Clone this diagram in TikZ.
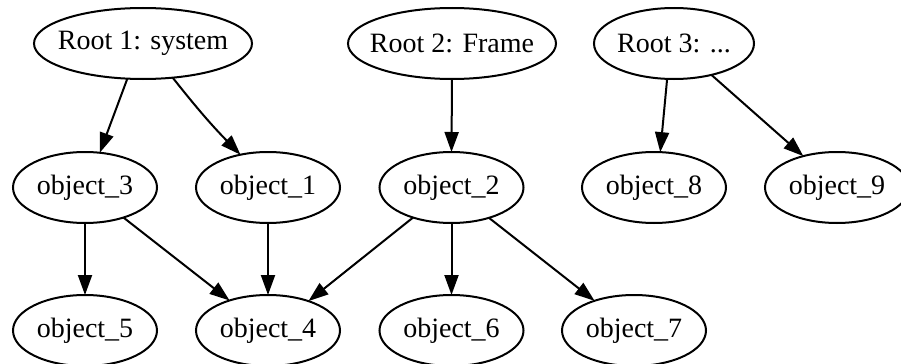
\documentclass[tikz,border=0pt]{standalone}
\usepackage{fontspec}
\setmainfont{Liberation Serif}
\usetikzlibrary{arrows.meta,shapes.geometric}
\newcommand{\lbl}[1]{\makebox[0pt]{#1}}
\tikzset{
  gnode/.style={ellipse,draw,line width=1pt,inner sep=0pt,outer sep=0pt,
    minimum height=35.5pt,font=\fontsize{14}{16}\selectfont},
  objnode/.style={gnode,minimum width=72pt},
  edge/.style={line width=1pt,-{Triangle[length=10pt,width=7pt]}}
}
\begin{document}
\begin{tikzpicture}[x=0.5pt,y=-0.5pt]
\useasboundingbox (0,0) rectangle (901,364);
\node[gnode,minimum width=109pt] (r1) at (143,43.5) {\lbl{Root 1: system}};
\node[gnode,minimum width=104pt] (r2) at (452,43.5) {\lbl{Root 2: Frame}};
\node[gnode,minimum width=80pt] (r3) at (674,43.5) {\lbl{Root 3: ...}};
\node[objnode] (o3) at (85,187.5) {\lbl{object\_3}};
\node[objnode] (o1) at (268,187.5) {\lbl{object\_1}};
\node[objnode] (o2) at (451.5,187.5) {\lbl{object\_2}};
\node[objnode] (o8) at (654,187.5) {\lbl{object\_8}};
\node[objnode] (o9) at (837,187.5) {\lbl{object\_9}};
\node[objnode] (o5) at (85,330.5) {\lbl{object\_5}};
\node[objnode] (o4) at (268,330.5) {\lbl{object\_4}};
\node[objnode] (o6) at (451.5,330.5) {\lbl{object\_6}};
\node[objnode] (o7) at (634,330.5) {\lbl{object\_7}};
\draw[edge] (r1.246.9) -- (o3.67.3);
\draw[edge] (r1.311.7) to[bend right=3] (o1.130.5);
\draw[edge] (r2.south) -- (o2.north);
\draw[edge] (r3.259.6) -- (o8.80.5);
\draw[edge] (r3.320) -- (o9.137.8);
\draw[edge] (o3.south) -- (o5.north);
\draw[edge] (o3.322.4) -- (o4.142);
\draw[edge] (o1.south) -- (o4.north);
\draw[edge] (o2.218.4) -- (o4.36.9);
\draw[edge] (o2.south) -- (o6.north);
\draw[edge] (o2.321.4) -- (o7.143.2);
\end{tikzpicture}
\end{document}
